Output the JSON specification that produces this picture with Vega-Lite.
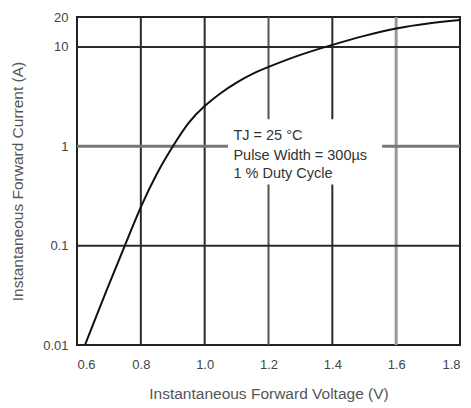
{
  "$schema": "https://vega.github.io/schema/vega-lite/v6.json",
  "width": 383,
  "height": 328,
  "autosize": {"type": "none"},
  "padding": {"left": 77, "top": 17, "right": 11, "bottom": 63},
  "background": "white",
  "config": {
    "view": {"stroke": "#222", "strokeWidth": 2},
    "font": "Liberation Sans",
    "axis": {"grid": false, "ticks": false, "domain": false, "labelFont": "Liberation Sans", "labelFontSize": 13, "labelColor": "#444", "titleFont": "Liberation Sans", "titleFontSize": 15.5, "titleFontWeight": "normal", "titleColor": "#555"}
  },
  "datasets": {
    "curve": [
      {"v": 0.625, "i": 0.01},
      {"v": 0.7, "i": 0.041},
      {"v": 0.75, "i": 0.1},
      {"v": 0.8, "i": 0.25},
      {"v": 0.85, "i": 0.54},
      {"v": 0.9, "i": 1.0},
      {"v": 0.95, "i": 1.78},
      {"v": 1.0, "i": 2.57},
      {"v": 1.05, "i": 3.45},
      {"v": 1.1, "i": 4.4},
      {"v": 1.15, "i": 5.4},
      {"v": 1.2, "i": 6.3},
      {"v": 1.3, "i": 8.4},
      {"v": 1.4, "i": 10.5},
      {"v": 1.5, "i": 13.0},
      {"v": 1.6, "i": 15.5},
      {"v": 1.7, "i": 17.3},
      {"v": 1.8, "i": 18.7}
    ]
  },
  "layer": [
    {
      "data": {"values": [{"v": 0.8}, {"v": 1.0}, {"v": 1.4}]},
      "mark": {"type": "rule", "color": "#2a2a2a", "strokeWidth": 2},
      "encoding": {"x": {"field": "v", "type": "quantitative"}}
    },
    {
      "data": {"values": [{"v": 1.2}]},
      "mark": {"type": "rule", "color": "#555", "strokeWidth": 2},
      "encoding": {"x": {"field": "v", "type": "quantitative"}}
    },
    {
      "data": {"values": [{"v": 1.6}]},
      "mark": {"type": "rule", "color": "#999", "strokeWidth": 3},
      "encoding": {"x": {"field": "v", "type": "quantitative"}}
    },
    {
      "data": {"values": [{"i": 0.1}, {"i": 10}]},
      "mark": {"type": "rule", "color": "#2a2a2a", "strokeWidth": 2},
      "encoding": {"y": {"field": "i", "type": "quantitative"}}
    },
    {
      "data": {"values": [{"i": 1}]},
      "mark": {"type": "rule", "color": "#777", "strokeWidth": 3},
      "encoding": {"y": {"field": "i", "type": "quantitative"}}
    },
    {
      "data": {"values": [{"v1": 1.073, "v2": 1.556, "i1": 0.413, "i2": 1.87}]},
      "mark": {"type": "rect", "color": "white"},
      "encoding": {
        "x": {"field": "v1", "type": "quantitative"},
        "x2": {"field": "v2"},
        "y": {"field": "i1", "type": "quantitative"},
        "y2": {"field": "i2"}
      }
    },
    {
      "data": {"name": "curve"},
      "mark": {"type": "line", "color": "#111", "strokeWidth": 2, "interpolate": "basis"},
      "encoding": {
        "x": {"field": "v", "type": "quantitative", "scale": {"domain": [0.6, 1.8], "nice": false, "zero": false},
          "axis": {"values": [0.6, 0.8, 1.0, 1.2, 1.4, 1.6, 1.8], "format": ".1f", "labelPadding": 13, "title": "Instantaneous Forward Voltage (V)", "titlePadding": 15}},
        "y": {"field": "i", "type": "quantitative", "scale": {"type": "log", "domain": [0.01, 20], "nice": false},
          "axis": {"values": [0.01, 0.1, 1, 10, 20], "format": "~g", "labelPadding": 9, "title": "Instantaneous Forward Current (A)", "titlePadding": 17}}
      }
    },
    {
      "data": {"values": [
        {"v": 1.09, "i": 1.26, "t": "TJ = 25 °C"},
        {"v": 1.09, "i": 0.79, "t": "Pulse Width = 300µs"},
        {"v": 1.09, "i": 0.52, "t": "1 % Duty Cycle"}
      ]},
      "mark": {"type": "text", "align": "left", "baseline": "middle", "fontSize": 14.5, "color": "#333", "font": "Liberation Sans"},
      "encoding": {
        "x": {"field": "v", "type": "quantitative"},
        "y": {"field": "i", "type": "quantitative"},
        "text": {"field": "t"}
      }
    }
  ]
}
